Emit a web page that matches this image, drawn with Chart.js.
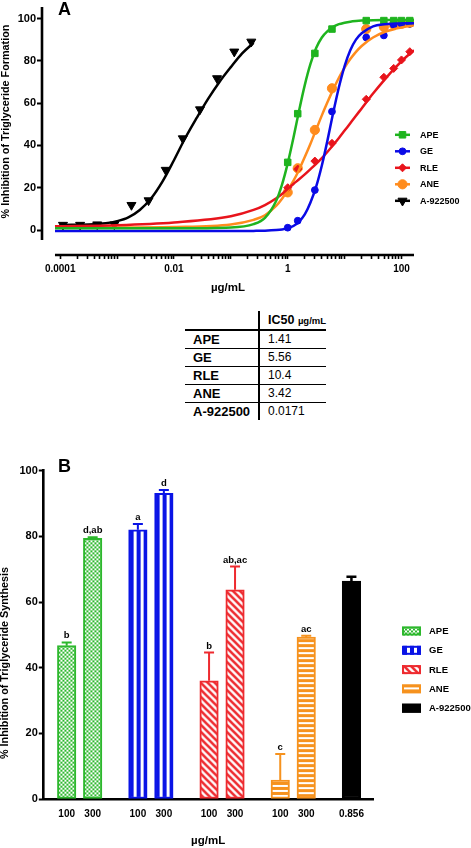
<!DOCTYPE html>
<html>
<head>
<meta charset="utf-8">
<script src="https://cdn.jsdelivr.net/npm/chart.js@4.4.0/dist/chart.umd.min.js"></script>
<style>
  body { margin: 0; background: #fff; width: 471px; height: 848px; position: relative; overflow: hidden;
         font-family: 'Liberation Sans', Arial, Helvetica, sans-serif; color: #000; }
  #wrapA { position: absolute; left: 0; top: 0; }
  #wrapB { position: absolute; left: 0; top: 430px; }
  #icTable { position: absolute; left: 185px; top: 311px; border-collapse: collapse; table-layout: fixed; }
  #icTable td { padding: 0 0 0 8px; height: 17px; line-height: 17px; white-space: nowrap; }
  #icTable td.name { font-weight: bold; font-size: 13px; border-right: 2px solid #000; }
  #icTable td.val { font-size: 12px; }
  #icTable tr.head td { height: 18px; border-bottom: 2px solid #000; }
  #icTable tr.head td.val { font-weight: bold; font-size: 12.5px; }
  #icTable tr.head small { font-size: 9.5px; }
  #icTable tr.row td { border-bottom: 1px solid #000; }
  #icTable tr.row:last-child td { border-bottom: none; }
</style>
</head>
<body>
<div id="wrapA"><canvas id="chartA" width="471" height="300"></canvas></div>
<table id="icTable">
  <colgroup><col style="width:74px"><col style="width:63px"></colgroup>
  <tbody id="icBody"></tbody>
</table>
<div id="wrapB"><canvas id="chartB" width="471" height="418"></canvas></div>

<script>
const FONT = "'Liberation Sans', Arial, Helvetica, sans-serif";
Chart.defaults.font.family = FONT;
Chart.defaults.color = '#000';

// ---- Panel A: measured points (µg/mL, % inhibition) ----
const extractConc = [1, 1.5, 3, 6, 24, 49, 73, 100, 140];
const apePct = [32, 55, 83.5, 95, 99, 99, 99, 99, 99];
const gePct  = [1.1, 4.4, 18.9, 56, 91, 92, 97, 97.5, 97.5];
const rlePct = [20, 28.8, 32.6, 41, 61.8, 72.2, 76.4, 80.4, 84.3];
const anePct = [17.8, 29.2, 47.3, 67, 95, 96, 97, 97.5, 98];
const stdConc = [0.000112, 0.000224, 0.000448, 0.000896, 0.00179, 0.00358, 0.00717, 0.0143, 0.0287, 0.0573, 0.115, 0.229];
const stdPct  = [2.4, 2.4, 2.6, 2.6, 11.8, 14, 28.4, 43.3, 57, 71.7, 84.3, 89];

// fitted curves
const fitConc = [0.000081, 0.001, 0.01, 0.1, 0.251, 0.398, 0.631, 0.794, 1, 1.259, 1.585, 1.995, 2.512,
                 3.162, 3.981, 5.012, 6.31, 7.943, 10, 12.59, 15.85, 19.95, 31.62, 50.12, 79.43, 120.2, 166];
const apeFit = [0.8, 0.8, 0.8, 1.2, 2.8, 5.8, 14, 21.5, 31.5, 43.5, 56.5, 68.5, 78.5, 86, 91, 94, 96, 97.3, 98, 98.5, 98.8, 99, 99.2, 99.3, 99.3, 99.3, 99.3];
const geFit  = [-0.5, -0.5, -0.5, -0.5, -0.4, -0.3, 0, 0.3, 0.9, 1.9, 4, 7.4, 13, 20.5, 30.5, 42.5, 55.5, 67.5, 77.5, 85, 90, 93, 96.3, 97.3, 97.6, 97.8, 97.8];
const rleFit = [1.8, 2.3, 3.6, 6.5, 9.5, 11.8, 15, 17, 19.5, 21.8, 24, 26.3, 28.8, 31.3, 34, 37, 40.2, 43.5, 47, 50.5, 54, 57.5, 64.5, 71, 77, 81.8, 85];
const aneFit = [1.2, 1.2, 1.4, 2.6, 4.8, 7, 11.5, 14.8, 18.8, 23.2, 28.5, 34.5, 40.8, 47.5, 54.2, 60.5, 66.5, 72, 76.8, 80.8, 84.2, 87, 91, 93.6, 95.2, 96.2, 96.8];
const stdFitConc = [0.000112, 0.000316, 0.000631, 0.001, 0.00158, 0.00251, 0.00398, 0.00631, 0.01, 0.0158, 0.0251, 0.0398, 0.0631, 0.1, 0.158, 0.251];
const stdFit = [2.4, 2.6, 3.2, 4.2, 6, 9.5, 15, 23, 33, 43.5, 53, 62, 70, 77, 83.5, 88.5];

const xTickVals = [0.0001, 0.01, 1, 100];
const xTickLabels = ['0.0001', '0.01', '1', '100'];
const yTicksA = [0, 20, 40, 60, 80, 100];

// ---- IC50 table ----
const ic50Names = ['APE', 'GE', 'RLE', 'ANE', 'A-922500'];
const ic50Values = ['1.41', '5.56', '10.4', '3.42', '0.0171'];

// ---- Panel B: bars ----
const extracts = ['APE', 'GE', 'RLE', 'ANE', 'A-922500'];
const doseLabels = [['100', '300'], ['100', '300'], ['100', '300'], ['100', '300'], ['0.856']];
const inhibMean = [[46.7, 79.4], [82, 93.1], [36, 63.7], [5.8, 49.3], [66.4]];
const inhibErr  = [[1, 0.3], [1.8, 1], [8.6, 7.1], [7.9, 0.4], [1.3]];
const sigLetters = [['b', 'd,ab'], ['a', 'd'], ['b', 'ab,ac'], ['c', 'ac'], ['']];

const xy = (xs, ys) => xs.map((x, i) => ({ x: x, y: ys[i] }));
const sameVal = (a, b) => Math.abs(Math.log10(a) - Math.log10(b)) < 1e-6;

// table
const icBody = document.getElementById('icBody');
icBody.innerHTML = '<tr class="head"><td class="name"></td><td class="val">IC50 <small>µg/mL</small></td></tr>' +
  ic50Names.map((n, i) => `<tr class="row"><td class="name">${n}</td><td class="val">${ic50Values[i]}</td></tr>`).join('');

// ================= Panel A =================
const seriesA = [
  { label: 'APE', color: '#1fb41f', style: 'rect', r: 4.6, rot: 0, x: extractConc, y: apePct, fx: fitConc, fy: apeFit },
  { label: 'GE', color: '#0a0ae6', style: 'circle', r: 3.4, rot: 0, x: extractConc, y: gePct, fx: fitConc, fy: geFit },
  { label: 'RLE', color: '#e8141c', style: 'rectRot', r: 4, rot: 0, x: extractConc, y: rlePct, fx: fitConc, fy: rleFit },
  { label: 'ANE', color: '#ff8c1e', style: 'circle', r: 4.6, rot: 0, x: extractConc, y: anePct, fx: fitConc, fy: aneFit },
  { label: 'A-922500', color: '#000000', style: 'triangle', r: 5.2, rot: 180, x: stdConc, y: stdPct, fx: stdFitConc, fy: stdFit }
];

function drawMarker(ctx, s, x, y) {
  ctx.fillStyle = s.color;
  ctx.strokeStyle = s.color;
  ctx.lineWidth = 1;
  Chart.helpers.drawPoint(ctx, { pointStyle: s.style, radius: s.r, rotation: s.rot, borderWidth: 1 }, x, y);
}

function drawYTitle(ctx, text, x, y) {
  ctx.save();
  ctx.translate(x, y);
  ctx.rotate(-Math.PI / 2);
  ctx.font = `bold 10.8px ${FONT}`;
  ctx.fillStyle = '#000';
  ctx.textAlign = 'center';
  ctx.textBaseline = 'middle';
  ctx.fillText(text, 0, 0);
  ctx.restore();
}

const panelA = {
  id: 'panelA',
  beforeDatasetsDraw(chart) {
    const { ctx, chartArea, scales: { x, y } } = chart;
    ctx.save();
    ctx.strokeStyle = '#000';
    ctx.lineWidth = 2.6;
    ctx.beginPath();
    // offset axes, GraphPad style
    ctx.moveTo(chartArea.left, y.getPixelForValue(-4.7));
    ctx.lineTo(chartArea.left, chartArea.top - 1);
    ctx.moveTo(x.getPixelForValue(fitConc[0]), chartArea.bottom);
    ctx.lineTo(x.getPixelForValue(fitConc[fitConc.length - 1]), chartArea.bottom);
    ctx.stroke();
    ctx.restore();
  },
  afterDraw(chart) {
    const ctx = chart.ctx;
    ctx.save();
    // legend
    seriesA.forEach((s, i) => {
      const ly = 134.8 + i * 16.5;
      ctx.strokeStyle = s.color;
      ctx.lineWidth = 2.5;
      ctx.beginPath();
      ctx.moveTo(395, ly);
      ctx.lineTo(410, ly);
      ctx.stroke();
      drawMarker(ctx, s, 402.5, ly);
      ctx.fillStyle = '#000';
      ctx.font = `bold 9px ${FONT}`;
      ctx.textAlign = 'left';
      ctx.textBaseline = 'middle';
      ctx.fillText(s.label, 420, ly + 0.5);
    });
    ctx.font = `bold 18px ${FONT}`;
    ctx.textBaseline = 'alphabetic';
    ctx.fillText('A', 58, 15);
    ctx.restore();
    drawYTitle(ctx, '% Inhibition of Triglyceride Formation', 6, 121.5);
  }
};

new Chart(document.getElementById('chartA'), {
  type: 'scatter',
  data: {
    datasets: [
      ...seriesA.map(s => ({
        label: s.label + ' fit', data: xy(s.fx, s.fy), showLine: true, borderColor: s.color,
        borderWidth: 2.5, pointRadius: 0, cubicInterpolationMode: 'monotone', fill: false
      })),
      ...seriesA.map(s => ({
        label: s.label, data: xy(s.x, s.y), showLine: false, pointStyle: s.style, pointRadius: s.r,
        pointRotation: s.rot, backgroundColor: s.color, borderColor: s.color, borderWidth: 1
      }))
    ]
  },
  options: {
    responsive: false,
    animation: false,
    layout: { padding: { top: 7.9, right: 57, left: 0, bottom: 0 } },
    plugins: { legend: { display: false }, tooltip: { enabled: false } },
    scales: {
      x: {
        type: 'logarithmic', min: 0.0000479, max: 166,
        afterBuildTicks: s => {
          const t = [];
          for (let e = -4; e <= 2; e++) {
            for (let m = 1; m <= 9; m++) {
              const v = m * Math.pow(10, e);
              if (v <= 100.0001) t.push({ value: v });
            }
          }
          s.ticks = t;
        },
        afterFit: s => { s.height = 45; s.paddingLeft = 0; s.paddingRight = 0; },
        ticks: {
          autoSkip: false, maxRotation: 0, padding: 4, color: '#000',
          font: { size: 10, weight: 'bold' },
          callback: v => {
            const i = xTickVals.findIndex(t => sameVal(t, v));
            return i >= 0 ? xTickLabels[i] : '';
          }
        },
        grid: { drawOnChartArea: false, tickLength: 4, tickWidth: 1.6, tickColor: '#000' },
        border: { display: false },
        title: { display: true, text: 'µg/mL', color: '#000', font: { size: 11.5, weight: 'bold' }, padding: { top: 0, bottom: 5 } }
      },
      y: {
        min: -11.8, max: 105,
        afterBuildTicks: s => { s.ticks = yTicksA.map(v => ({ value: v })); },
        afterFit: s => { s.width = 42; s.paddingTop = 0; s.paddingBottom = 0; },
        ticks: { padding: 1, color: '#000', font: { size: 11, weight: 'bold' } },
        grid: { drawOnChartArea: false, tickLength: 5, tickWidth: 2, tickColor: '#000' },
        border: { display: false }
      }
    }
  },
  plugins: [panelA]
});

// ================= Panel B =================
const stylesB = [
  { color: '#2db82d', kind: 'checker' },
  { color: '#0a14e6', kind: 'vstripe' },
  { color: '#ee2a2f', kind: 'diag' },
  { color: '#f6921e', kind: 'hstripe' },
  { color: '#000000', kind: 'solid' }
];

function makePattern(kind, color) {
  if (kind === 'solid') return color;
  const c = document.createElement('canvas');
  const size = { checker: [4, 4], vstripe: [7, 1], diag: [7, 7], hstripe: [1, 5] }[kind];
  c.width = size[0];
  c.height = size[1];
  const g = c.getContext('2d');
  g.fillStyle = '#fff';
  g.fillRect(0, 0, c.width, c.height);
  g.fillStyle = color;
  g.strokeStyle = color;
  if (kind === 'checker') {
    g.fillRect(0, 0, 2, 2);
    g.fillRect(2, 2, 2, 2);
  } else if (kind === 'vstripe') {
    g.fillRect(0, 0, 4, 1);
  } else if (kind === 'hstripe') {
    g.fillRect(0, 0, 1, 3);
  } else if (kind === 'diag') {
    g.lineWidth = 2.6;
    g.beginPath();
    for (let k = -1; k <= 1; k++) {
      g.moveTo(k * 7 - 2, -2);
      g.lineTo(k * 7 + 9, 9);
    }
    g.stroke();
  }
  return g.createPattern(c, 'repeat');
}

function placePattern(p, x, y) {
  if (p && typeof p !== 'string' && p.setTransform) p.setTransform(new DOMMatrix([1, 0, 0, 1, x, y]));
}

// bar slot on a linear axis: group start + dose index
const slotX = (g, d) => 0.9 + g * 2.74 + d;
const barSlots = [];
const barLabels = [];
extracts.forEach((e, g) => doseLabels[g].forEach((lab, d) => { barSlots.push(slotX(g, d)); barLabels.push(lab); }));

const datasetsB = extracts.map((name, g) => ({
  label: name,
  data: inhibMean[g].map((v, d) => ({ x: slotX(g, d), y: v })),
  backgroundColor: inhibMean[g].map(() => makePattern(stylesB[g].kind, stylesB[g].color)),
  borderColor: stylesB[g].color,
  borderWidth: 2,
  borderSkipped: false,
  barThickness: 18.5,
  grouped: false
}));
const legendPatterns = stylesB.map(s => makePattern(s.kind, s.color));

const panelB = {
  id: 'panelB',
  beforeDatasetsDraw(chart) {
    chart.data.datasets.forEach((ds, di) => {
      chart.getDatasetMeta(di).data.forEach((el, i) => {
        placePattern(ds.backgroundColor[i], el.x - el.width / 2 + 1, el.y + 2);
      });
    });
  },
  afterDatasetsDraw(chart) {
    const { ctx, scales: { y } } = chart;
    ctx.save();
    chart.data.datasets.forEach((ds, g) => {
      chart.getDatasetMeta(g).data.forEach((el, d) => {
        const top = y.getPixelForValue(inhibMean[g][d] + inhibErr[g][d]);
        ctx.strokeStyle = stylesB[g].color;
        ctx.lineWidth = g === 4 ? 2.5 : 2;
        ctx.beginPath();
        ctx.moveTo(el.x, el.y);
        ctx.lineTo(el.x, top);
        ctx.moveTo(el.x - 5, top);
        ctx.lineTo(el.x + 5, top);
        ctx.stroke();
        if (sigLetters[g][d]) {
          ctx.fillStyle = '#000';
          ctx.font = `bold 9.5px ${FONT}`;
          ctx.textAlign = 'center';
          ctx.textBaseline = 'alphabetic';
          ctx.fillText(sigLetters[g][d], el.x, top - 4);
        }
      });
    });
    ctx.restore();
  },
  afterDraw(chart) {
    const ctx = chart.ctx;
    ctx.save();
    extracts.forEach((name, g) => {
      const ly = 201 + g * 19.3;
      const p = legendPatterns[g];
      placePattern(p, 403, ly - 4.5);
      ctx.fillStyle = p;
      ctx.fillRect(402, ly - 4.5, 19, 9);
      ctx.strokeStyle = stylesB[g].color;
      ctx.lineWidth = 2;
      ctx.strokeRect(403, ly - 3.5, 17, 7);
      ctx.fillStyle = '#000';
      ctx.font = `bold 9.5px ${FONT}`;
      ctx.textAlign = 'left';
      ctx.textBaseline = 'middle';
      ctx.fillText(name, 429, ly + 0.5);
    });
    ctx.font = `bold 18px ${FONT}`;
    ctx.textBaseline = 'alphabetic';
    ctx.fillText('B', 58, 42);
    ctx.restore();
    drawYTitle(ctx, '% Inhibition of Triglyceride Synthesis', 5.5, 233);
  }
};

new Chart(document.getElementById('chartB'), {
  type: 'bar',
  data: { datasets: datasetsB },
  options: {
    responsive: false,
    animation: false,
    layout: { padding: { top: 40.7, right: 98, left: 0, bottom: 0 } },
    plugins: { legend: { display: false }, tooltip: { enabled: false } },
    scales: {
      x: {
        type: 'linear', min: 0, max: 12.69, offset: false,
        afterBuildTicks: s => { s.ticks = barSlots.map(v => ({ value: v })); },
        afterFit: s => { s.height = 49; s.paddingLeft = 0; s.paddingRight = 0; },
        ticks: {
          autoSkip: false, maxRotation: 0, padding: 1, color: '#000',
          font: { size: 10, weight: 'bold' },
          callback: (v, i) => barLabels[i]
        },
        grid: { display: false },
        border: { display: true, color: '#000', width: 2.6 },
        title: { display: true, text: 'µg/mL', color: '#000', font: { size: 11.5, weight: 'bold' }, padding: { top: 0, bottom: 0 } }
      },
      y: {
        min: 0, max: 100,
        ticks: { stepSize: 20, padding: 1, color: '#000', font: { size: 11, weight: 'bold' } },
        afterFit: s => { s.width = 43.3; s.paddingTop = 0; s.paddingBottom = 0; },
        grid: { drawOnChartArea: false, tickLength: 4.5, tickWidth: 2, tickColor: '#000' },
        border: { display: true, color: '#000', width: 2.6 }
      }
    }
  },
  plugins: [panelB]
});
</script>
</body>
</html>
